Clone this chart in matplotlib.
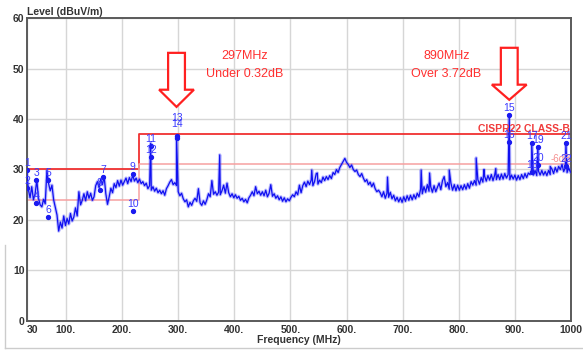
import numpy as np
import matplotlib.pyplot as plt
from matplotlib.lines import Line2D
from matplotlib.patches import FancyArrow

plt.rcParams['font.family'] = ['Liberation Sans', 'DejaVu Sans']

# receiver sweep: 30 MHz .. 999 MHz in 3 MHz steps, levels in dBuV/m
sweep_start, sweep_stop, sweep_step = 30, 999, 3
sweep_level = [
    29.6, 26.0, 24.4, 26.6, 24.0, 25.2, 27.9, 24.3, 23.0, 22.6,
    24.1, 23.2, 29.8, 27.2, 25.8, 26.9, 24.0, 22.5, 21.0, 17.8,
    19.6, 18.4, 20.8, 18.9, 20.3, 19.2, 21.3, 19.8, 20.6, 22.4,
    20.8, 25.6, 23.0, 23.9, 25.2, 23.8, 25.6, 24.3, 25.3, 23.9,
    24.6, 26.8, 27.6, 26.4, 28.1, 27.0, 28.6, 25.2, 23.1, 24.6,
    26.3, 25.4, 27.2, 26.4, 27.8, 26.7, 27.9, 26.9, 27.6, 28.3,
    27.2, 28.4, 27.6, 28.9, 27.7, 28.3, 27.4, 28.1, 27.2, 27.6,
    26.8, 27.3, 26.2, 26.8, 25.9, 26.6, 25.7, 26.3, 25.4, 25.9,
    25.2, 25.8, 24.9, 26.2, 26.8, 27.5, 28.0, 27.0, 27.4, 26.8,
    25.6, 24.8, 25.3, 24.2, 23.6, 24.0, 22.6, 23.5, 22.9, 23.8,
    24.3, 23.7, 26.2, 23.4, 22.9, 23.8, 23.1, 24.0, 25.2, 24.6,
    27.8, 25.1, 25.6, 24.9, 25.5, 25.0, 25.8, 26.9, 25.3, 27.3,
    25.4, 24.6, 25.2, 24.4, 25.0, 24.3, 24.7, 23.9, 24.3, 23.6,
    24.1, 23.4, 24.4, 24.9, 25.6, 24.8, 26.6, 25.2, 25.7, 24.9,
    25.6, 24.8, 25.9, 24.6, 25.3, 27.0, 24.7, 25.2, 24.3, 24.8,
    24.0, 24.6, 23.7, 24.4, 23.6, 24.2, 23.8, 24.5, 25.0, 24.6,
    25.6, 25.0, 26.9, 25.4, 26.8, 27.5, 26.6, 27.7, 27.0, 27.9,
    26.8, 27.6, 29.2, 27.1, 27.9, 27.4, 28.5, 27.8, 28.6, 28.0,
    28.8, 28.2, 29.4, 29.0, 30.0, 29.4, 30.4, 31.0, 31.6, 32.2,
    31.4, 31.0, 30.4, 30.9, 30.0, 29.6, 29.9, 29.0, 28.6, 29.2,
    28.3, 27.6, 28.0, 27.0, 27.5, 26.6, 27.3, 26.2, 25.6, 25.9,
    25.4, 24.6, 25.6, 24.3, 25.3, 24.5, 25.5, 24.2, 24.9, 23.8,
    24.5, 23.6, 24.4, 23.5, 24.6, 23.7, 24.8, 23.9, 24.9, 24.0,
    25.0, 24.2, 25.3, 24.6, 26.1, 25.2, 26.6, 25.5, 27.0, 25.7,
    26.6, 25.5, 26.8, 25.6, 26.5, 27.3, 26.0, 27.8, 28.6, 26.6,
    27.4, 26.1, 27.3, 25.9, 27.0, 25.8, 26.9, 25.9, 26.8, 26.0,
    27.0, 26.1, 27.2, 26.3, 27.6, 26.9, 27.8, 26.9, 28.0, 27.1,
    28.4, 27.5, 28.7, 27.7, 28.8, 27.9, 29.0, 27.8, 28.9, 28.0,
    29.0, 28.0, 29.1, 28.1, 29.2, 28.3, 29.0, 28.0, 28.9, 28.1,
    28.9, 27.9, 28.8, 28.0, 29.0, 28.2, 29.2, 28.4, 29.3, 29.0,
    29.9, 28.9, 29.8, 28.8, 29.7, 28.9, 29.8, 28.9, 29.6, 28.8,
    29.8, 29.0, 30.1, 29.2, 30.4, 29.5, 30.6, 30.0, 31.0, 29.6,
    30.4, 29.4, 30.3, 29.5,
]

# narrow emissions between sweep points
spike_freq = [251, 297, 374, 538, 548, 673, 733, 748, 783, 831, 845, 866,
              890, 930, 941, 963, 991]
spike_level = [35.2, 36.68, 32.9, 29.9, 29.3, 28.5, 29.9, 29.3, 29.9, 32.3,
               30.0, 30.2, 40.72, 35.2, 34.5, 30.6, 35.2]

# marker table
marker_no = [str(i) for i in range(1, 23)]
marker_freq = [31, 31, 47, 47, 68, 68, 166, 160, 219, 219, 251, 251,
               297, 297, 890, 890, 930, 930, 941, 941, 991, 991]
marker_level = [29.9, 26.3, 27.9, 23.4, 27.9, 20.6, 28.5, 26.0, 29.1, 21.8,
                34.7, 32.5, 36.68, 36.3, 40.72, 35.5, 35.2, 29.5, 34.5, 30.9,
                35.2, 30.7]

# CISPR 22 class B limit and the -6 dB margin
limit_freq = [30, 230, 230, 1000]
limit_level = [30, 30, 37, 37]
margin_db = 6

x_ticks = [30, 100, 200, 300, 400, 500, 600, 700, 800, 900, 1000]
x_tick_labels = ['30', '100.', '200.', '300.', '400.', '500.', '600.',
                 '700.', '800.', '900.', '1000']
y_ticks = [0, 10, 20, 30, 40, 50, 60]

sweep_freq = np.arange(sweep_start, sweep_stop + 1, sweep_step)
freq = np.concatenate([sweep_freq, spike_freq])
level = np.concatenate([sweep_level, spike_level])
order = np.argsort(freq, kind='stable')
freq, level = freq[order], level[order]

fig = plt.figure(figsize=(5.83, 3.51), dpi=100)
ax = fig.add_axes([0.0458, 0.0855, 0.9336, 0.8632])

# trace with a soft halo, like a dense receiver sweep
ax.plot(freq, level, color='#4a4aff', lw=2.4, alpha=0.35, zorder=3)
ax.plot(freq, level, color='#1010f0', lw=0.9, zorder=3)

ax.plot(limit_freq, limit_level, color='#f03030', lw=1.3, zorder=2)
ax.plot(limit_freq, np.array(limit_level) - margin_db, color='#f7a0a0',
        lw=1.1, zorder=2)
ax.text(998, 37, 'CISPR22 CLASS-B', color='#f03c3c', fontsize=7.5,
        fontweight='bold', ha='right', va='bottom', zorder=4)
ax.text(1001, 31, '-6dB', color='#f59090', fontsize=7, ha='right',
        va='bottom', zorder=4)

ax.plot(marker_freq, marker_level, 'o', color='#1a1af0', ms=2.8, zorder=5)
for no, f, lv in zip(marker_no, marker_freq, marker_level):
    dy = 5
    if no == '13':
        dy = 12.8
    elif no == '14':
        dy = 9.5
    ax.annotate(no, (f, lv), xytext=(0, dy), textcoords='offset points',
                ha='center', va='center', fontsize=7.5, color='#3a3aff',
                zorder=6)

# call-out arrows for the worst two frequencies
for f, top, tip, head in [(297, 53.1, 42.4, 3.4), (890, 54.1, 43.8, 3.0)]:
    ax.add_patch(FancyArrow(f, top, 0, tip - top, width=30, head_width=62,
                            head_length=head, length_includes_head=True,
                            fc='white', ec='#ff2020', lw=1.6, zorder=7))
ax.text(418, 52.4, '297MHz', color='#ff3030', fontsize=9, ha='center',
        va='center')
ax.text(418, 48.9, 'Under 0.32dB', color='#ff3030', fontsize=9,
        ha='center', va='center')
ax.text(778, 52.4, '890MHz', color='#ff3030', fontsize=9, ha='center',
        va='center')
ax.text(778, 48.9, 'Over 3.72dB', color='#ff3030', fontsize=9,
        ha='center', va='center')

ax.set_xlim(30, 1000)
ax.set_ylim(0, 60)
ax.set_xticks(x_ticks)
ax.set_xticklabels(x_tick_labels)
ax.set_yticks(y_ticks)
ax.tick_params(length=0, labelsize=7.5, colors='#333333', pad=3)
for lab in ax.get_xticklabels() + ax.get_yticklabels():
    lab.set_fontweight('bold')
ax.get_xticklabels()[0].set_ha('left')
ax.tick_params(axis='y', pad=1.5)
ax.grid(True, color='#d6d6d6', lw=1.0)
ax.set_axisbelow(True)
for sp in ax.spines.values():
    sp.set_color('#5a5a5a')
    sp.set_linewidth(1.4)

fig.text(0.046, 0.967, 'Level (dBuV/m)', fontsize=7.5, fontweight='bold',
         color='#333333', ha='left', va='center')
fig.text(0.513, 0.031, 'Frequency (MHz)', fontsize=7.5, fontweight='bold',
         color='#333333', ha='center', va='center')

# light frame around the plot area
fig.add_artist(Line2D([5 / 583, 5 / 583], [3 / 351, 106 / 351],
                      color='#cccccc', lw=1))
fig.add_artist(Line2D([5 / 583, 1.0], [3 / 351, 3 / 351],
                      color='#cccccc', lw=1))

fig.savefig('out.png', dpi=100)
